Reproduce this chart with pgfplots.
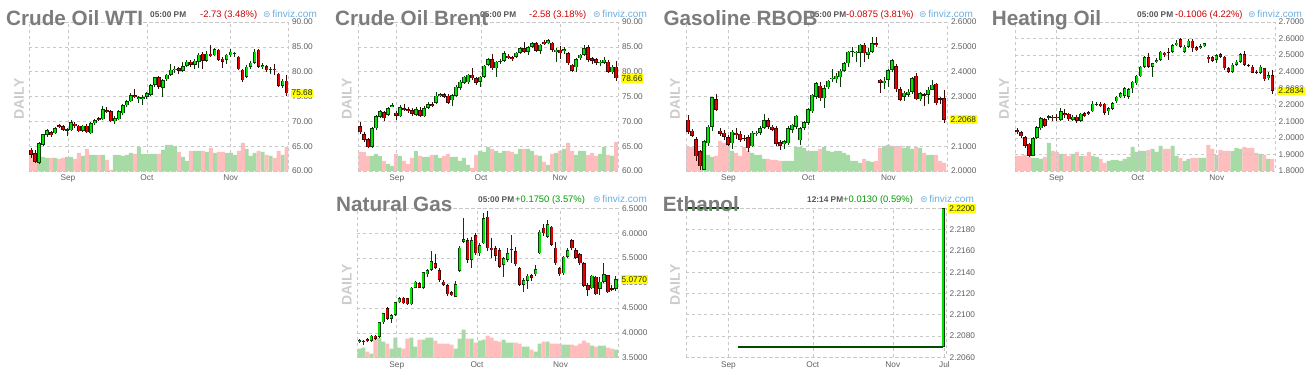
\documentclass[border=0pt]{standalone}
\usepackage{pgfplots}
\pgfplotsset{compat=1.18}
\usepackage{pgfplotstable}
\usepackage{fontspec}
\setmainfont{Liberation Sans}
\newfontfamily\dejavu{DejaVu Sans}

\definecolor{upb}{HTML}{00E600}
\definecolor{upd}{HTML}{0A3A0A}
\definecolor{dnb}{HTML}{E60000}
\definecolor{dnd}{HTML}{3A0A0A}
\definecolor{volg}{HTML}{A6DBA6}
\definecolor{volr}{HTML}{FFBDBD}
\definecolor{gridc}{HTML}{C8C8C8}
\definecolor{tickc}{HTML}{606060}
\definecolor{titc}{HTML}{7C7C7C}
\definecolor{dailyc}{HTML}{CCCCCC}
\definecolor{timec}{HTML}{555555}
\definecolor{chred}{HTML}{CC0000}
\definecolor{chgrn}{HTML}{009900}
\definecolor{fvblue}{HTML}{6AAEE0}
\definecolor{pricey}{HTML}{FFFF00}
\definecolor{ethd}{HTML}{004D00}

\pgfplotstableread{
i o h l c v
0 64.3 64.6 62.6 63.3 18
1 63.6 64.2 61.6 61.8 16
2 61.6 65.9 61.4 65.6 13
3 65.3 67.5 65.0 67.4 14
4 67.3 68.5 66.8 68.2 13
5 67.8 68.0 66.9 67.2 13
6 67.6 68.9 67.4 68.6 13
7 69.2 69.4 68.6 68.8 12
8 69.0 69.2 68.0 68.3 13
9 68.3 68.6 67.1 68.4 14
10 68.2 70.3 68.0 69.8 14
11 69.5 69.8 68.7 69.0 12
12 69.1 69.3 67.8 68.0 18
13 68.1 69.3 67.9 69.1 15
14 69.1 69.5 67.6 67.8 22
15 67.6 69.8 67.5 69.6 16
16 69.6 70.4 69.3 70.2 16
17 70.6 70.8 70.0 70.2 16
18 70.4 73.0 70.3 72.5 16
19 72.3 72.8 71.6 71.9 11
20 72.0 72.2 69.8 70.0 1
21 70.1 71.0 69.4 70.6 16
22 70.4 72.2 70.2 72.0 16
23 71.6 73.5 71.2 73.3 15
24 73.2 74.3 72.9 74.1 16
25 74.0 75.7 73.8 75.3 18
26 75.3 76.5 74.6 74.9 17
27 74.4 75.2 73.6 74.9 24
28 74.6 75.3 73.2 74.9 17
29 74.9 76.0 74.5 75.7 17
30 75.3 77.6 75.1 77.3 17
31 77.3 79.0 77.0 78.9 17
32 78.9 79.1 76.6 76.9 17
33 76.7 78.5 75.0 78.3 21
34 78.5 79.6 78.2 79.4 26
35 79.4 81.5 79.2 80.4 26
36 80.3 81.2 79.8 80.6 25
37 80.7 81.0 79.6 80.2 19
38 80.2 81.9 80.0 81.1 14
39 81.2 82.4 81.0 82.0 10
40 82.0 82.3 81.0 81.4 20
41 81.4 82.5 80.5 82.2 20
42 82.0 83.7 80.7 83.4 20
43 83.6 84.0 80.5 82.2 20
44 82.2 84.1 82.0 83.6 19
45 83.6 85.4 83.0 83.3 23
46 83.3 84.8 83.1 84.5 18
47 84.4 84.6 82.2 82.4 19
48 82.6 82.9 80.8 82.0 19
49 82.4 83.6 81.6 83.4 18
50 83.3 84.6 83.0 84.0 18
51 83.6 84.0 82.9 83.8 16
52 83.0 83.2 80.3 80.5 20
53 80.4 80.6 78.0 78.3 28
54 79.0 81.3 78.8 81.0 22
55 81.0 82.2 80.5 81.8 15
56 81.8 84.5 81.5 84.0 18
57 84.4 84.6 80.8 81.0 20
58 81.0 81.8 80.6 81.3 19
59 81.1 81.3 79.9 80.3 16
60 80.4 81.0 79.6 80.6 15
61 80.6 81.6 79.4 80.3 13
62 79.6 79.8 76.9 77.1 20
63 77.1 78.5 76.8 78.2 16
64 78.2 79.3 75.2 75.68 24
}\wti

\pgfplotstableread{
i o h l c v
0 69.0 69.9 67.4 67.8 19
1 67.4 67.9 65.9 66.3 19
2 66.4 66.7 64.6 64.8 15
3 64.9 68.8 64.6 68.6 15
4 68.6 71.2 68.3 71.0 17
5 70.9 72.3 70.6 72.0 15
6 71.8 72.1 70.0 70.6 10
7 71.3 72.9 71.0 72.7 7
8 73.0 73.6 72.8 73.3 5
9 71.7 72.1 70.3 71.1 17
10 71.0 73.2 70.8 72.9 15
11 72.7 73.5 72.0 72.3 10
12 72.5 72.9 71.6 72.0 7
13 72.2 72.6 71.0 71.5 13
14 71.3 72.8 71.0 72.5 20
15 72.3 72.8 70.8 71.1 15
16 71.0 73.0 70.8 72.7 14
17 72.7 73.9 72.5 73.5 14
18 73.5 73.9 72.9 73.1 16
19 73.7 76.0 73.5 75.2 16
20 75.2 75.7 74.9 75.5 13
21 75.5 75.8 74.6 75.0 15
22 75.2 75.5 73.4 73.7 17
23 74.2 75.6 73.1 75.3 14
24 75.2 77.3 74.9 77.0 14
25 76.7 78.3 76.4 78.0 10
26 77.8 79.2 77.5 79.0 13
27 77.9 79.6 77.6 79.4 6
28 79.4 80.7 78.4 78.7 3
29 78.7 79.0 77.4 77.8 16
30 78.0 79.2 77.0 79.0 20
31 79.0 81.4 78.8 81.2 19
32 81.4 82.7 81.2 82.5 24
33 82.5 83.5 80.4 80.7 22
34 80.7 82.2 79.0 82.0 20
35 82.0 82.6 81.6 82.2 18
36 82.2 84.2 81.9 83.7 20
37 83.2 83.6 82.6 82.9 20
38 82.9 83.2 82.2 82.5 19
39 83.0 84.0 82.7 83.8 17
40 83.8 85.0 83.5 84.7 22
41 84.7 86.0 83.8 84.0 22
42 84.0 85.1 83.4 84.9 22
43 85.0 86.0 84.8 85.7 20
44 85.7 86.0 83.9 84.2 16
45 84.2 85.6 83.5 85.4 15
46 86.0 86.4 85.4 85.7 9
47 85.7 86.5 85.5 86.3 6
48 85.8 86.0 84.0 84.4 17
49 84.0 84.7 82.0 84.4 18
50 84.4 85.1 82.6 83.7 20
51 84.2 85.0 83.6 84.5 22
52 83.7 84.0 81.4 81.7 28
53 81.4 81.6 79.9 80.2 20
54 80.9 82.7 80.0 82.5 16
55 82.7 83.6 82.4 83.4 20
56 83.4 85.3 83.1 84.7 20
57 84.9 85.3 82.0 82.4 16
58 82.7 83.0 81.6 82.2 18
59 82.5 82.8 81.3 81.8 15
60 81.7 82.3 81.1 82.0 17
61 81.8 82.9 81.5 82.4 24
62 82.0 82.3 79.8 80.0 16
63 79.9 81.3 79.5 81.0 15
64 81.0 82.1 78.2 78.66 29
}\brent

\pgfplotstableread{
i o h l c v
0 2.206 2.225 2.150 2.159 24
1 2.162 2.170 2.135 2.142 24
2 2.129 2.135 2.040 2.059 22
3 2.079 2.085 2.005 2.019 20
4 2.005 2.125 2.003 2.119 12
5 2.112 2.185 2.100 2.179 16
6 2.179 2.300 2.160 2.297 14
7 2.289 2.310 2.240 2.246 15
8 2.163 2.175 2.140 2.150 30
9 2.155 2.165 2.125 2.137 28
10 2.137 2.145 2.100 2.106 27
11 2.112 2.165 2.090 2.159 20
12 2.155 2.175 2.130 2.146 18
13 2.150 2.160 2.115 2.126 15
14 2.133 2.145 2.120 2.129 24
15 2.137 2.145 2.078 2.092 20
16 2.099 2.160 2.095 2.155 18
17 2.150 2.160 2.140 2.155 16
18 2.153 2.180 2.145 2.173 16
19 2.173 2.230 2.170 2.204 12
20 2.204 2.215 2.170 2.177 12
21 2.179 2.185 2.160 2.166 11
22 2.173 2.180 2.100 2.110 11
23 2.115 2.125 2.085 2.102 10
24 2.110 2.125 2.090 2.119 10
25 2.112 2.180 2.105 2.173 10
26 2.166 2.190 2.155 2.186 10
27 2.179 2.225 2.170 2.222 24
28 2.123 2.178 2.105 2.173 24
29 2.173 2.200 2.165 2.196 23
30 2.193 2.255 2.185 2.249 20
31 2.240 2.312 2.232 2.307 20
32 2.300 2.360 2.290 2.354 20
33 2.343 2.360 2.280 2.293 22
34 2.293 2.345 2.255 2.333 24
35 2.337 2.368 2.330 2.364 20
36 2.371 2.410 2.360 2.376 19
37 2.370 2.395 2.355 2.383 20
38 2.378 2.410 2.340 2.404 20
39 2.404 2.440 2.400 2.434 18
40 2.434 2.485 2.420 2.481 16
41 2.481 2.500 2.460 2.485 10
42 2.474 2.485 2.440 2.481 10
43 2.477 2.510 2.420 2.508 8
44 2.508 2.515 2.440 2.474 12
45 2.467 2.495 2.450 2.481 10
46 2.481 2.540 2.475 2.514 9
47 2.514 2.540 2.500 2.508 10
48 2.367 2.370 2.315 2.354 23
49 2.356 2.380 2.330 2.364 25
50 2.367 2.412 2.340 2.407 26
51 2.407 2.450 2.400 2.447 25
52 2.423 2.430 2.320 2.329 25
53 2.329 2.340 2.280 2.287 25
54 2.300 2.322 2.280 2.316 23
55 2.307 2.330 2.300 2.320 25
56 2.320 2.380 2.310 2.374 22
57 2.383 2.395 2.285 2.289 24
58 2.289 2.320 2.280 2.313 23
59 2.309 2.315 2.260 2.307 18
60 2.307 2.340 2.270 2.327 16
61 2.327 2.365 2.325 2.347 16
62 2.351 2.355 2.265 2.273 16
63 2.293 2.300 2.270 2.289 10
64 2.293 2.325 2.195 2.2068 8
}\gasoline

\pgfplotstableread{
i o h l c v
0 2.045 2.060 2.025 2.033 15
1 2.033 2.040 2.000 2.009 15
2 2.005 2.010 1.940 1.953 16
3 1.965 1.970 1.885 1.892 14
4 1.892 2.005 1.890 1.999 13
5 1.999 2.070 1.995 2.065 13
6 2.059 2.125 2.050 2.119 12
7 2.113 2.120 2.065 2.073 14
8 2.125 2.140 2.110 2.129 28
9 2.129 2.140 2.100 2.119 20
10 2.129 2.145 2.100 2.119 19
11 2.109 2.180 2.100 2.160 17
12 2.150 2.175 2.120 2.140 17
13 2.146 2.150 2.105 2.113 15
14 2.109 2.140 2.100 2.129 17
15 2.129 2.140 2.090 2.105 19
16 2.105 2.150 2.095 2.146 15
17 2.150 2.155 2.125 2.134 15
18 2.154 2.160 2.140 2.146 19
19 2.160 2.220 2.155 2.206 15
20 2.200 2.215 2.195 2.206 14
21 2.206 2.215 2.185 2.194 12
22 2.206 2.210 2.140 2.150 8
23 2.160 2.185 2.140 2.180 10
24 2.174 2.215 2.170 2.210 11
25 2.220 2.255 2.210 2.250 11
26 2.246 2.275 2.240 2.270 10
27 2.254 2.305 2.240 2.300 12
28 2.250 2.300 2.235 2.294 14
29 2.300 2.345 2.270 2.340 24
30 2.330 2.380 2.320 2.375 19
31 2.371 2.436 2.365 2.431 20
32 2.431 2.495 2.420 2.487 20
33 2.487 2.510 2.425 2.431 21
34 2.431 2.455 2.370 2.451 22
35 2.461 2.480 2.455 2.471 19
36 2.471 2.525 2.465 2.521 25
37 2.515 2.520 2.490 2.501 22
38 2.521 2.540 2.470 2.515 22
39 2.521 2.565 2.515 2.561 25
40 2.561 2.590 2.555 2.575 15
41 2.595 2.605 2.545 2.551 13
42 2.521 2.560 2.510 2.551 10
43 2.551 2.595 2.545 2.587 12
44 2.587 2.595 2.520 2.541 13
45 2.547 2.555 2.525 2.531 13
46 2.541 2.565 2.535 2.555 13
47 2.555 2.575 2.550 2.571 13
48 2.491 2.500 2.450 2.475 26
49 2.487 2.495 2.460 2.467 22
50 2.471 2.505 2.450 2.501 16
51 2.505 2.515 2.480 2.491 21
52 2.491 2.495 2.410 2.421 20
53 2.421 2.430 2.395 2.401 20
54 2.401 2.450 2.395 2.441 20
55 2.441 2.470 2.435 2.461 23
56 2.461 2.512 2.455 2.507 22
57 2.507 2.525 2.435 2.441 24
58 2.441 2.445 2.430 2.435 23
59 2.431 2.440 2.390 2.395 23
60 2.401 2.410 2.385 2.395 18
61 2.395 2.440 2.385 2.431 17
62 2.421 2.425 2.345 2.354 16
63 2.360 2.400 2.350 2.380 12
64 2.380 2.410 2.265 2.2834 12
}\heating

\pgfplotstableread{
i o h l c v
0 3.821 3.87 3.80 3.855 9
1 3.821 3.86 3.75 3.835 10
2 3.875 3.90 3.82 3.835 6
3 3.835 3.96 3.82 3.942 4
4 3.942 3.96 3.86 3.875 20
5 3.922 4.22 3.90 4.210 20
6 4.210 4.40 4.18 4.391 16
7 4.491 4.52 4.25 4.277 14
8 4.277 4.38 4.20 4.357 9
9 4.357 4.62 4.34 4.612 20
10 4.612 4.72 4.60 4.692 10
11 4.705 4.72 4.58 4.592 9
12 4.692 4.70 4.55 4.571 19
13 4.571 4.92 4.55 4.906 20
14 4.906 5.05 4.89 5.027 11
15 4.993 5.02 4.89 4.906 18
16 4.906 5.23 4.88 5.214 18
17 5.174 5.28 5.12 5.261 20
18 5.261 5.65 5.24 5.442 20
19 5.395 5.58 5.28 5.308 17
20 5.261 5.30 5.03 5.060 14
21 5.027 5.06 4.93 4.960 14
22 4.960 4.99 4.74 4.772 14
23 4.812 4.84 4.73 4.759 13
24 4.725 5.04 4.72 4.973 9
25 5.241 5.75 5.22 5.710 19
26 5.830 6.30 5.80 5.884 28
27 5.864 5.90 5.40 5.462 19
28 5.462 5.92 5.30 5.864 19
29 5.964 6.00 5.57 5.596 15
30 5.596 5.80 5.55 5.763 17
31 5.797 6.40 5.78 6.299 18
32 6.333 6.45 5.65 5.696 22
33 5.710 5.90 5.50 5.663 20
34 5.696 5.75 5.45 5.549 17
35 5.663 5.70 5.30 5.328 16
36 5.362 5.52 5.12 5.496 18
37 5.462 5.70 5.42 5.596 15
38 5.663 5.97 5.40 5.683 15
39 5.643 5.73 5.35 5.375 15
40 5.295 5.33 4.93 4.960 14
41 4.960 5.10 4.82 5.060 11
42 5.040 5.18 4.88 5.147 11
43 5.161 5.18 5.05 5.107 8
44 5.174 5.37 5.14 5.281 6
45 5.596 6.06 5.58 6.031 14
46 6.112 6.18 5.95 5.998 16
47 5.931 6.27 5.90 6.179 16
48 6.132 6.15 5.74 5.763 14
49 5.710 5.83 5.37 5.395 14
50 5.295 5.33 5.15 5.174 14
51 5.194 5.55 5.17 5.529 13
52 5.529 5.70 5.50 5.663 13
53 5.864 5.88 5.67 5.696 13
54 5.663 5.70 5.48 5.509 12
55 5.576 5.60 5.37 5.395 14
56 5.395 5.42 4.92 4.946 17
57 4.960 5.00 4.74 4.859 15
58 4.893 5.17 4.87 5.147 12
59 5.127 5.15 4.75 4.772 11
60 4.879 5.12 4.75 5.027 12
61 5.027 5.40 5.00 5.174 12
62 5.161 5.17 4.79 4.812 10
63 4.885 4.95 4.83 4.875 9
64 4.879 5.15 4.84 5.077 8
}\natgas

\pgfplotstableread{
i o h l c v
64.3 2.207 2.220 2.207 2.220 0
}\ethanol

% #1 table, #2 filter expr, #3 wick colour, #4 border colour, #5 body colour, #6 min half body, #7 pad
\newcommand{\candles}[7]{%
  \addplot[draw=none, restrict expr to domain={#2}{0.0000001:100000},
    error bars/.cd, y dir=both, y explicit, error mark=none,
    error bar style={draw=#3, line width=0.9pt}]
    table[x=i, y expr={(\thisrow{h}+\thisrow{l})/2}, y error expr={(\thisrow{h}-\thisrow{l})/2}] {#1};
  \addplot[draw=none, restrict expr to domain={#2}{0.0000001:100000},
    error bars/.cd, y dir=both, y explicit, error mark=none,
    error bar style={draw=#4, line width=3.4pt}]
    table[x=i, y expr={(\thisrow{o}+\thisrow{c})/2}, y error expr={max(abs(\thisrow{c}-\thisrow{o})/2,#6)}] {#1};
  \addplot[draw=none, restrict expr to domain={#2}{0.0000001:100000},
    error bars/.cd, y dir=both, y explicit, error mark=none,
    error bar style={draw=#5, line width=2.0pt}]
    table[x=i, y expr={(\thisrow{o}+\thisrow{c})/2}, y error expr={max(abs(\thisrow{c}-\thisrow{o})/2-#7,0)}] {#1};
}
\newcommand{\allcandles}[3]{%
  \candles{#1}{\thisrow{c}-\thisrow{o}+0.0000002}{upd}{upd}{upb}{#2}{#3}
  \candles{#1}{\thisrow{o}-\thisrow{c}}{dnd}{dnd}{dnb}{#2}{#3}
}
\newcommand{\volumes}[1]{%
  \addplot[ybar, bar width=1, bar shift=0pt, fill=volg, draw=none,
    restrict expr to domain={\thisrow{c}-\thisrow{o}+0.0000002}{0.0000001:100000}] table[x=i, y=v] {#1};
  \addplot[ybar, bar width=1, bar shift=0pt, fill=volr, draw=none,
    restrict expr to domain={\thisrow{o}-\thisrow{c}}{0.0000001:100000}] table[x=i, y=v] {#1};
}
\newcommand{\info}[7]{%
  \node[anchor=base west, inner sep=0pt, font=\fontsize{8.3}{8.3}\selectfont\bfseries, text=timec] at (#1pt,#7pt) {#2};
  \node[anchor=base west, inner sep=0pt, font=\fontsize{9.4}{9.4}\selectfont, text=#4] at (#3pt,#7pt) {#5};
  \node[anchor=base west, inner sep=0pt, font=\fontsize{10}{10}\selectfont, text=fvblue] at (#6pt,#7pt) {{\dejavu\fontsize{9}{9}\selectfont ⊜}\,finviz.com};
}
\newcommand{\ttl}[3]{%
  \node[anchor=base west, inner sep=0pt, font=\fontsize{20.7}{20.7}\selectfont\bfseries, text=titc] at (#1pt,#2pt) {#3};
}
\newcommand{\daily}[2]{%
  \node[rotate=90, inner sep=0pt, font=\fontsize{14}{14}\selectfont\bfseries, text=dailyc] at (#1pt,#2pt) {DAILY};
}
\newcommand{\lastp}[2]{%
  \node[anchor=west, fill=pricey, inner xsep=1pt, inner ysep=1.4pt, xshift=2.2pt,
    font=\fontsize{8.3}{8.3}\selectfont, text=black!85] at (#1) {#2};
}

\pgfplotsset{
  fvprice/.style={scale only axis, anchor=south west,
    axis line style={draw=gridc, dash pattern=on 3pt off 3pt, line width=0.6pt},
    grid=major, grid style={draw=gridc, dash pattern=on 3pt off 3pt, line width=0.6pt},
    major tick length=0pt, yticklabel pos=right,
    ticklabel style={font=\fontsize{8.3}{8.3}\selectfont, text=tickc},
    yticklabel style={anchor=west, inner sep=0pt, xshift=3.5pt},
    xticklabel style={anchor=north, inner sep=0pt, yshift=-4pt},
    clip=false},
  fvvol/.style={scale only axis, anchor=south west, hide axis, ymin=0, ymax=149},
}

\begin{document}
\begin{tikzpicture}[x=1pt,y=1pt]
\path[use as bounding box] (0,0) rectangle (1307,370);

% ---------- Crude Oil WTI ----------
\begin{axis}[fvvol, at={(29pt,199pt)}, width=259.3pt, height=149pt, xmin=-0.5, xmax=64.4]
\volumes{\wti}
\end{axis}
\begin{axis}[fvprice, at={(29pt,199pt)}, width=259.3pt, height=149pt, xmin=-0.5, xmax=64.4,
  ymin=60, ymax=90, ytick={60,65,70,75,80,85,90},
  yticklabels={60.00,65.00,70.00,75.00,80.00,85.00,90.00},
  xtick={9.25,29,50}, xticklabels={Sep,Oct,Nov}]
\allcandles{\wti}{0.1}{0.12}
\coordinate (L1) at (axis cs:64.4,75.68);
\end{axis}
\lastp{L1}{75.68}

% ---------- Crude Oil Brent ----------
\begin{axis}[fvvol, at={(358.3pt,199pt)}, width=260pt, height=149pt, xmin=-0.42, xmax=64.57]
\volumes{\brent}
\end{axis}
\begin{axis}[fvprice, at={(358.3pt,199pt)}, width=260pt, height=149pt, xmin=-0.42, xmax=64.57,
  ymin=60, ymax=90, ytick={60,65,70,75,80,85,90},
  yticklabels={60.00,65.00,70.00,75.00,80.00,85.00,90.00},
  xtick={9.2,30.25,50}, xticklabels={Sep,Oct,Nov}]
\allcandles{\brent}{0.1}{0.12}
\coordinate (L2) at (axis cs:64.57,78.66);
\end{axis}
\lastp{L2}{78.66}

% ---------- Gasoline RBOB ----------
\begin{axis}[fvvol, at={(686pt,199pt)}, width=261.3pt, height=149pt, xmin=-0.5, xmax=64.8]
\volumes{\gasoline}
\end{axis}
\begin{axis}[fvprice, at={(686pt,199pt)}, width=261.3pt, height=149pt, xmin=-0.5, xmax=64.8,
  ymin=2.0, ymax=2.6, ytick={2.0,2.1,2.2,2.3,2.4,2.5,2.6},
  yticklabels={2.0000,2.1000,2.2000,2.3000,2.4000,2.5000,2.6000},
  xtick={10.1,30.1,50.1}, xticklabels={Sep,Oct,Nov}]
\allcandles{\gasoline}{0.002}{0.0024}
\coordinate (L3) at (axis cs:64.8,2.2068);
\end{axis}
\lastp{L3}{2.2068}

% ---------- Heating Oil ----------
\begin{axis}[fvvol, at={(1015pt,199pt)}, width=260pt, height=149pt, xmin=-0.5, xmax=64.7]
\volumes{\heating}
\end{axis}
\begin{axis}[fvprice, at={(1015pt,199pt)}, width=260pt, height=149pt, xmin=-0.5, xmax=64.7,
  ymin=1.8, ymax=2.7, ytick={1.8,1.9,2.0,2.1,2.2,2.3,2.4,2.5,2.6,2.7},
  yticklabels={1.8000,1.9000,2.0000,2.1000,2.2000,2.3000,2.4000,2.5000,2.6000,2.7000},
  xtick={9.9,30.3,50.1}, xticklabels={Sep,Oct,Nov}]
\allcandles{\heating}{0.003}{0.0036}
\coordinate (L4) at (axis cs:64.7,2.2834);
\end{axis}
\lastp{L4}{2.2834}

% ---------- Natural Gas ----------
\begin{axis}[fvvol, at={(357.3pt,12.3pt)}, width=261pt, height=149.4pt, xmin=-0.5, xmax=64.6]
\volumes{\natgas}
\end{axis}
\begin{axis}[fvprice, at={(357.3pt,12.3pt)}, width=261pt, height=149.4pt, xmin=-0.5, xmax=64.6,
  ymin=3.5, ymax=6.5, ytick={3.5,4.0,4.5,5.0,5.5,6.0,6.5},
  yticklabels={3.5000,4.0000,4.5000,5.0000,5.5000,6.0000,6.5000},
  xtick={9.35,29.35,50.2}, xticklabels={Sep,Oct,Nov}]
\allcandles{\natgas}{0.01}{0.012}
\coordinate (L5) at (axis cs:64.6,5.077);
\end{axis}
\lastp{L5}{5.0770}

% ---------- Ethanol ----------
\begin{axis}[fvprice, at={(686pt,12.7pt)}, width=260pt, height=149pt, xmin=0, xmax=65,
  ymin=2.206, ymax=2.22, ytick={2.206,2.208,2.21,2.212,2.214,2.216,2.218,2.22},
  yticklabels={2.2060,2.2080,2.2100,2.2120,2.2140,2.2160,2.2180,2.2200},
  xtick={10.6,31.7,51.7,64.6}, xticklabels={Sep,Oct,Nov,Jul}]
\addplot[ethd, line width=1.7pt] coordinates {(0,2.22) (13.2,2.22)};
\addplot[ethd, line width=1.7pt] coordinates {(13.0,2.207) (64.3,2.207)};
\allcandles{\ethanol}{0.00005}{0.00006}
\coordinate (L6) at (axis cs:65,2.22);
\end{axis}
\lastp{L6}{2.2200}

% ---------- texts ----------
\info{150}{05:00 PM}{200}{chred}{-2.73 (3.48\%)}{263}{352.3}
\info{480}{05:00 PM}{529}{chred}{-2.58 (3.18\%)}{593}{352.3}
\info{810}{05:00 PM}{846}{chred}{-0.0875 (3.81\%)}{919}{352.3}
\info{1137}{05:00 PM}{1175}{chred}{-0.1006 (4.22\%)}{1248}{352.3}
\info{478}{05:00 PM}{515}{chgrn}{+0.1750 (3.57\%)}{593}{167.3}
\info{807}{12:14 PM}{843}{chgrn}{+0.0130 (0.59\%)}{920}{167.3}

\ttl{6}{344.3}{Crude Oil WTI}
\ttl{335}{344.3}{Crude Oil Brent}
\ttl{663.3}{344.3}{Gasoline RBOB}
\ttl{991.7}{344.3}{Heating Oil}
\ttl{336}{158.3}{Natural Gas}
\ttl{662.7}{158.3}{Ethanol}

\daily{19}{271}
\daily{346.7}{271}
\daily{675}{271}
\daily{1004}{271}
\daily{346.7}{85}
\daily{675}{85}
\end{tikzpicture}
\end{document}
